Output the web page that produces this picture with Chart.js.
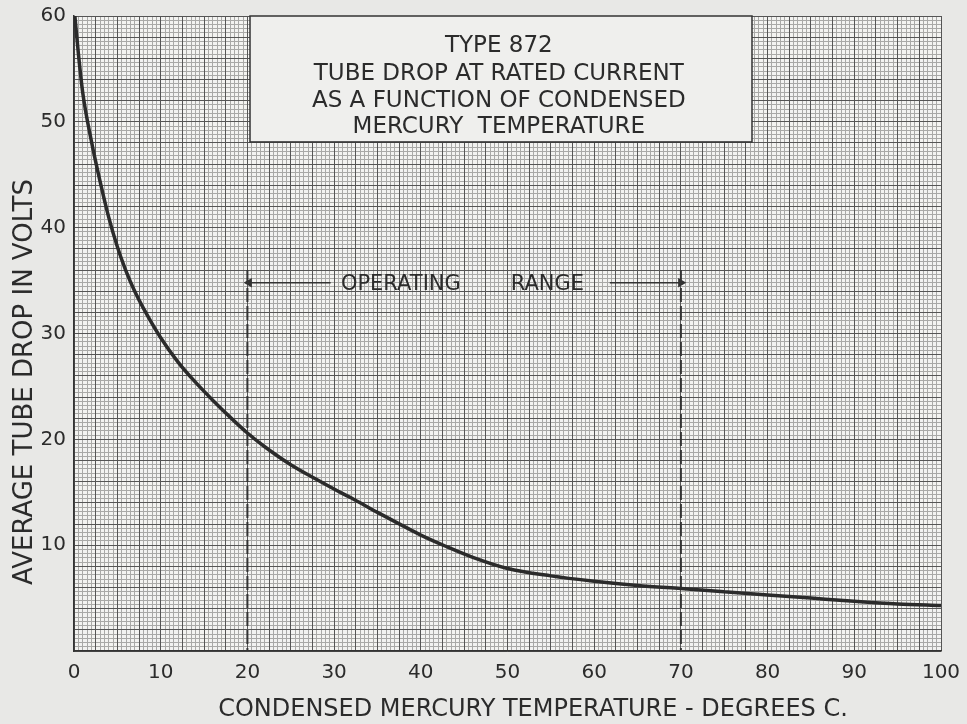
<!DOCTYPE html>
<html>
<head>
<meta charset="utf-8">
<script src="https://cdn.jsdelivr.net/npm/chart.js@4/dist/chart.umd.min.js"></script>
<style>
  html, body { margin: 0; padding: 0; background: #e8e8e6; }
  #wrap { width: 967px; height: 724px; position: relative; }
</style>
</head>
<body>
<div id="wrap"><canvas id="c" width="967" height="724"></canvas></div>
<script>
// ---- data ----
const tempC = [0.1, 0.5, 1, 2, 3, 4, 5, 6, 7, 8, 10, 12, 14, 16, 18, 20, 22, 25, 28, 30, 32, 35, 38, 40, 43, 46, 50, 55, 60, 65, 70, 75, 80, 85, 90, 95, 100];
const dropV = [60, 56.5, 52.8, 48.2, 44.4, 41.0, 38.2, 35.9, 34.0, 32.4, 29.6, 27.3, 25.4, 23.7, 22.1, 20.6, 19.3, 17.6, 16.2, 15.3, 14.45, 13.1, 11.8, 10.95, 9.85, 8.85, 7.8, 7.1, 6.6, 6.2, 5.9, 5.6, 5.3, 5.0, 4.7, 4.45, 4.3];
const xTicks = { min: 0, max: 100, step: 10 };
const yTicks = { min: 0, max: 60, step: 10 };
const rangeLow = 20, rangeHigh = 70;
const rangeLineTop = 36;
const arrowLevel = 34.8;
const leftArrowX = [20.2, 29.6];
const rightArrowX = [61.8, 70];
const titleLines = ['TYPE 872', 'TUBE DROP AT RATED CURRENT', 'AS A FUNCTION OF CONDENSED', 'MERCURY  TEMPERATURE'];
const rangeWords = ['OPERATING', 'RANGE'];
const xTitle = 'CONDENSED MERCURY TEMPERATURE - DEGREES C.';
const yTitle = 'AVERAGE TUBE DROP IN VOLTS';

const FONT = "'DejaVu Sans', sans-serif";
const INK = '#2b2b2b';

const curve = tempC.map((t, i) => ({ x: t, y: dropV[i] }));

const decor = {
  id: 'decor',
  beforeDraw(chart) {
    const { ctx, chartArea: a } = chart;
    ctx.save();
    ctx.fillStyle = '#e8e8e6';
    ctx.fillRect(0, 0, chart.width, chart.height);
    ctx.fillStyle = '#f3f3f1';
    ctx.fillRect(a.left, a.top, a.right - a.left, a.bottom - a.top);
    ctx.restore();
  },
  afterDraw(chart) {
    const { ctx } = chart;
    const xs = chart.scales.x, ys = chart.scales.y;
    ctx.save();
    // title box
    const bx0 = xs.getPixelForValue(20.3), bx1 = xs.getPixelForValue(78.2);
    const by0 = ys.getPixelForValue(60), by1 = ys.getPixelForValue(48.1);
    ctx.fillStyle = '#efefed';
    ctx.fillRect(bx0, by0, bx1 - bx0, by1 - by0);
    ctx.strokeStyle = '#333';
    ctx.lineWidth = 1.5;
    ctx.strokeRect(bx0, by0, bx1 - bx0, by1 - by0);
    ctx.fillStyle = INK;
    ctx.font = '23px ' + FONT;
    ctx.textAlign = 'center';
    ctx.textBaseline = 'alphabetic';
    const cx = xs.getPixelForValue(49);
    const base = [52, 80, 107, 133];
    titleLines.forEach((t, i) => ctx.fillText(t, cx, base[i]));
    // operating range words
    ctx.font = '21px ' + FONT;
    const wy = ys.getPixelForValue(arrowLevel) + 7;
    ctx.fillText(rangeWords[0], xs.getPixelForValue(37.7), wy);
    ctx.fillText(rangeWords[1], xs.getPixelForValue(54.6), wy);
    // axis titles
    ctx.font = '24px ' + FONT;
    ctx.fillText(xTitle, 533, 716);
    ctx.translate(32, 382);
    ctx.rotate(-Math.PI / 2);
    ctx.font = '26px ' + FONT;
    ctx.fillText(yTitle, 0, 0);
    ctx.restore();
  }
};

const zeroPad = s => { s.paddingLeft = 0; s.paddingRight = 0; s.paddingTop = 0; s.paddingBottom = 0; };

const hiddenAxis = (pos, step, min, max, color, z, isX) => ({
  type: 'linear', position: pos, min, max,
  ticks: { display: false, stepSize: step },
  grid: { color, lineWidth: 1, drawTicks: false, z },
  border: { display: false },
  afterFit: s => { if (isX) s.height = 0; else s.width = 0; zeroPad(s); }
});

new Chart(document.getElementById('c'), {
  type: 'line',
  data: {
    datasets: [
      {
        data: curve, xAxisID: 'x', yAxisID: 'y',
        borderColor: INK, borderWidth: 3.5, pointRadius: 0,
        cubicInterpolationMode: 'monotone', fill: false
      },
      {
        data: [{ x: rangeLow, y: rangeLineTop }, { x: rangeLow, y: 0 }], xAxisID: 'x', yAxisID: 'y',
        borderColor: '#333', borderWidth: 2, borderDash: [14, 4], pointRadius: 0
      },
      {
        data: [{ x: rangeHigh, y: rangeLineTop }, { x: rangeHigh, y: 0 }], xAxisID: 'x', yAxisID: 'y',
        borderColor: '#333', borderWidth: 2, borderDash: [14, 4], pointRadius: 0
      },
      {
        data: [{ x: leftArrowX[0], y: arrowLevel }, { x: leftArrowX[1], y: arrowLevel }], xAxisID: 'x', yAxisID: 'y',
        borderColor: '#333', borderWidth: 1.5, pointStyle: 'triangle', pointRadius: [4, 0],
        pointRotation: -90, pointBackgroundColor: '#333', pointBorderColor: '#333'
      },
      {
        data: [{ x: rightArrowX[0], y: arrowLevel }, { x: rightArrowX[1], y: arrowLevel }], xAxisID: 'x', yAxisID: 'y',
        borderColor: '#333', borderWidth: 1.5, pointStyle: 'triangle', pointRadius: [0, 4],
        pointRotation: 90, pointBackgroundColor: '#333', pointBorderColor: '#333'
      }
    ]
  },
  options: {
    responsive: false,
    animation: false,
    events: [],
    layout: { padding: { left: 40, top: 16, right: 26, bottom: 0 } },
    plugins: { legend: { display: false }, tooltip: { enabled: false }, title: { display: false } },
    scales: {
      xFine: hiddenAxis('bottom', 0.5, 0, 100, '#a9a9a7', -4, true),
      yFine: hiddenAxis('left', 0.4, 0, 60, '#a9a9a7', -4, false),
      xMed: hiddenAxis('bottom', 2.5, 0, 100, '#555555', -3, true),
      yMed: hiddenAxis('left', 2, 0, 60, '#555555', -3, false),
      x: {
        type: 'linear', position: 'bottom', min: xTicks.min, max: xTicks.max,
        ticks: { stepSize: xTicks.step, color: INK, font: { family: FONT, size: 20 }, padding: 10, maxRotation: 0 },
        grid: { display: false, drawTicks: false },
        border: { display: true, color: '#333', width: 1.5 },
        afterFit: s => { s.height = 73; zeroPad(s); }
      },
      y: {
        type: 'linear', position: 'left', min: yTicks.min, max: yTicks.max,
        ticks: { stepSize: yTicks.step, color: INK, font: { family: FONT, size: 20 }, padding: 8,
                 callback: v => (v === 0 ? '' : String(v)) },
        grid: { display: false, drawTicks: false },
        border: { display: true, color: '#333', width: 1.5 },
        afterFit: s => { s.width = 34; zeroPad(s); }
      }
    }
  },
  plugins: [decor]
});
</script>
</body>
</html>
